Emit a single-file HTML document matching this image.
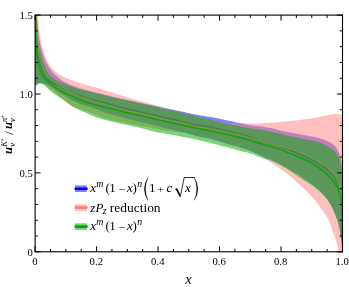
<!DOCTYPE html>
<html><head><meta charset="utf-8"><style>
html,body{margin:0;padding:0;background:#fff}
body{width:349px;height:287px;position:relative;overflow:hidden;font-family:"Liberation Serif",serif;color:#000}
svg{will-change:transform}
svg.tx{filter:grayscale(1)}
text{font-family:"Liberation Serif",serif;fill:#000}
.t{font-size:10.7px}
</style></head><body>
<svg width="349" height="287" viewBox="0 0 349 287" style="position:absolute;left:0;top:0"><defs><clipPath id="c"><rect x="35.1" y="15.1" width="307.4" height="236.70000000000002"/></clipPath></defs><g clip-path="url(#c)"><polygon points="36.9,10.0 36.9,11.9 37.0,13.8 37.1,15.8 37.2,17.7 37.3,19.6 37.4,21.5 37.6,23.5 37.8,25.4 37.9,27.3 38.1,29.2 38.3,31.1 38.5,33.0 38.8,35.0 39.0,36.9 39.3,38.8 39.6,40.7 39.9,42.6 40.3,44.5 40.7,46.3 41.2,48.2 41.8,50.0 42.4,51.9 42.9,53.7 43.4,55.6 44.1,57.4 44.8,59.2 45.6,60.9 46.4,62.7 47.3,64.4 48.2,66.1 49.2,67.7 50.3,69.3 51.5,70.8 52.7,72.3 54.0,73.7 55.4,75.1 56.9,76.3 58.4,77.5 59.9,78.7 61.4,79.9 63.1,80.9 64.7,81.9 66.4,82.8 68.1,83.7 69.9,84.5 71.6,85.3 73.4,86.0 75.2,86.7 77.0,87.3 78.9,87.9 80.7,88.4 82.6,88.9 84.4,89.5 86.3,90.0 88.1,90.5 90.0,91.0 91.9,91.4 93.7,91.9 95.6,92.4 97.5,92.9 99.3,93.3 101.2,93.8 103.1,94.3 104.9,94.7 106.8,95.2 108.7,95.6 110.6,96.0 112.4,96.5 114.3,96.9 116.2,97.4 118.1,97.8 119.9,98.2 121.8,98.7 123.7,99.1 125.6,99.5 127.4,100.0 129.3,100.4 131.2,100.8 133.1,101.2 135.0,101.6 136.8,102.0 138.7,102.4 140.6,102.8 142.5,103.2 144.4,103.6 146.3,104.0 148.2,104.4 150.0,104.8 151.9,105.1 153.8,105.5 155.7,105.9 157.6,106.3 159.5,106.7 161.3,107.1 163.2,107.6 165.1,108.0 167.0,108.4 168.9,108.8 170.8,109.2 172.6,109.6 174.5,110.0 176.4,110.4 178.3,110.8 180.2,111.2 182.0,111.6 183.9,112.0 185.8,112.5 187.7,112.9 189.6,113.3 191.5,113.7 193.3,114.1 195.2,114.5 197.1,114.8 199.0,115.2 200.9,115.5 202.8,115.8 204.7,116.1 206.6,116.4 208.5,116.7 210.4,117.0 212.3,117.3 214.2,117.6 216.1,118.0 218.0,118.4 219.9,118.8 221.8,119.2 223.6,119.6 225.5,120.0 227.4,120.4 229.3,120.8 231.2,121.2 233.0,121.6 234.9,122.0 236.8,122.4 238.7,122.8 240.6,123.2 242.5,123.6 244.3,124.0 246.2,124.4 248.1,124.8 250.0,125.2 251.9,125.5 253.8,125.8 255.7,126.0 257.6,126.2 259.6,126.4 261.5,126.6 263.4,126.8 265.3,127.0 267.2,127.4 269.1,127.7 270.9,128.1 272.8,128.6 274.7,129.0 276.6,129.5 278.4,130.0 280.3,130.4 282.2,130.9 284.1,131.3 285.9,131.7 287.8,132.1 289.7,132.4 291.6,132.8 293.5,133.2 295.4,133.5 297.3,133.9 299.2,134.2 301.1,134.6 303.0,134.9 304.9,135.3 306.8,135.6 308.7,136.0 310.6,136.3 312.5,136.6 314.3,137.0 316.2,137.4 318.1,137.9 320.0,138.4 321.8,139.0 323.7,139.6 325.5,140.2 327.2,141.0 329.0,141.8 330.7,142.7 332.3,143.8 333.9,145.0 335.2,146.2 336.4,147.7 337.4,149.4 338.3,151.1 339.1,152.9 339.7,154.7 340.3,156.6 340.7,158.5 341.1,160.3 341.4,162.2 341.7,164.1 341.9,166.1 342.0,168.0 343.0,168.0 343.0,245.0 342.0,245.0 341.7,243.2 341.4,241.3 341.1,239.5 340.8,237.7 340.5,235.8 340.3,234.0 340.0,232.2 339.8,230.3 339.5,228.5 339.1,226.7 338.7,224.9 338.3,223.1 337.7,221.3 337.1,219.6 336.5,217.8 335.8,216.1 335.2,214.4 334.5,212.7 333.7,210.9 333.0,209.3 332.2,207.6 331.3,205.9 330.5,204.3 329.5,202.7 328.6,201.1 327.6,199.6 326.5,198.0 325.3,196.6 324.1,195.2 322.9,193.8 321.6,192.5 320.2,191.2 318.9,190.0 317.5,188.7 316.1,187.5 314.6,186.3 313.2,185.2 311.8,184.0 310.3,182.9 308.8,181.8 307.3,180.8 305.7,179.7 304.2,178.7 302.6,177.6 301.1,176.6 299.5,175.6 298.0,174.6 296.4,173.7 294.8,172.7 293.2,171.7 291.6,170.8 290.1,169.8 288.5,168.8 286.9,167.9 285.3,166.9 283.7,166.0 282.1,165.1 280.5,164.2 278.8,163.3 277.2,162.5 275.5,161.7 273.8,161.0 272.1,160.3 270.4,159.5 268.7,158.8 267.0,158.1 265.2,157.4 263.5,156.7 261.8,156.0 260.2,155.2 258.5,154.4 256.8,153.6 255.1,152.9 253.4,152.1 251.7,151.4 250.0,150.7 248.3,150.0 246.5,149.4 244.8,148.8 243.0,148.2 241.3,147.6 239.5,147.1 237.7,146.6 235.9,146.1 234.1,145.7 232.3,145.2 230.5,144.7 228.8,144.2 227.0,143.7 225.2,143.2 223.4,142.6 221.7,142.0 219.9,141.5 218.1,140.9 216.4,140.4 214.6,139.8 212.8,139.3 211.0,138.9 209.2,138.4 207.4,138.0 205.6,137.7 203.8,137.3 202.0,137.0 200.1,136.7 198.3,136.3 196.5,135.9 194.7,135.5 192.9,135.1 191.1,134.6 189.3,134.0 187.6,133.5 185.8,133.0 184.0,132.5 182.2,132.1 180.4,131.7 178.6,131.3 176.8,130.9 175.0,130.5 173.2,130.0 171.4,129.6 169.6,129.2 167.8,128.7 166.0,128.3 164.2,127.8 162.4,127.4 160.6,126.9 158.8,126.5 157.0,126.0 155.2,125.5 153.4,125.1 151.6,124.7 149.8,124.2 148.0,123.8 146.2,123.3 144.4,122.9 142.6,122.5 140.8,122.0 139.0,121.6 137.2,121.2 135.4,120.7 133.6,120.2 131.8,119.8 130.0,119.3 128.2,118.9 126.4,118.4 124.6,117.9 122.9,117.5 121.1,117.0 119.3,116.5 117.5,116.0 115.7,115.6 113.9,115.1 112.1,114.6 110.3,114.1 108.5,113.6 106.8,113.1 105.0,112.5 103.3,111.9 101.5,111.2 99.8,110.5 98.1,109.8 96.4,109.1 94.7,108.5 92.9,107.9 91.1,107.3 89.4,106.8 87.6,106.3 85.8,105.7 84.0,105.2 82.3,104.6 80.5,104.0 78.8,103.3 77.1,102.6 75.4,101.9 73.7,101.1 72.1,100.2 70.4,99.4 68.8,98.5 67.2,97.5 65.6,96.6 64.0,95.6 62.5,94.7 60.8,93.7 59.3,92.8 57.7,91.8 56.2,90.7 54.8,89.6 53.3,88.4 51.8,87.4 50.2,86.3 48.6,85.4 46.9,84.7 45.2,84.0 43.4,83.4 41.6,83.0 39.8,82.8 38.0,83.3 36.4,84.2 35.0,85.5 34.5,85.5 34.5,10.0" fill="rgb(0,0,255)" fill-opacity="0.5"/><polyline points="36.0,10.0 36.0,13.2 36.1,16.4 36.1,19.5 36.2,22.7 36.3,25.9 36.4,29.0 36.5,32.2 36.6,35.4 36.8,38.6 37.1,41.7 37.3,44.9 37.6,48.1 37.9,51.2 38.3,54.4 38.7,57.5 39.3,60.7 39.9,63.8 40.7,66.8 41.9,69.8 43.2,72.7 44.6,75.6 46.4,78.1 48.8,80.3 51.4,82.1 54.2,83.7 57.0,85.1 59.8,86.5 62.7,87.8 65.7,89.0 68.6,90.2 71.5,91.5 74.4,92.9 77.3,94.3 80.1,95.6 83.1,96.8 86.1,97.9 89.1,98.8 92.2,99.6 95.3,100.4 98.3,101.2 101.4,101.9 104.5,102.7 107.6,103.5 110.6,104.4 113.7,105.3 116.7,106.2 119.7,107.1 122.8,107.9 125.9,108.6 129.0,109.3 132.1,110.0 135.2,110.7 138.3,111.4 141.4,112.2 144.5,112.9 147.6,113.6 150.7,114.2 153.8,114.9 156.9,115.6 160.0,116.3 163.1,117.1 166.2,117.8 169.2,118.5 172.3,119.2 175.4,120.0 178.5,120.7 181.6,121.4 184.7,122.1 187.8,122.9 190.9,123.6 194.0,124.3 197.1,124.9 200.2,125.4 203.4,125.9 206.5,126.4 209.6,126.9 212.8,127.6 215.9,128.2 218.9,129.0 222.0,129.7 225.1,130.5 228.2,131.2 231.3,132.0 234.4,132.8 237.4,133.6 240.5,134.4 243.6,135.2 246.6,136.0 249.7,136.9 252.7,137.9 255.7,138.9 258.7,139.9 261.7,141.0 264.7,142.1 267.7,143.1 270.8,144.0 273.8,145.0 276.8,145.9 279.9,146.9 282.9,147.8 285.9,148.8 288.9,149.8 291.9,150.9 294.8,152.1 297.8,153.3 300.7,154.5 303.6,155.9 306.5,157.2 309.3,158.6 312.2,160.1 314.9,161.6 317.7,163.2 320.4,164.8 323.1,166.6 325.6,168.5 328.0,170.5 330.5,172.7 332.7,175.1 334.7,177.6 336.1,180.2 337.3,183.1 338.4,186.1 339.3,189.3 340.0,192.4 340.4,195.6 340.7,198.7 340.9,201.9 341.2,205.0 341.3,208.2 341.5,211.4 341.6,214.6 341.7,217.8 341.7,220.9 341.8,224.1 341.9,227.3 341.9,230.5 342.0,233.6 342.0,236.8 342.0,240.0" fill="none" stroke="rgb(0,0,255)" stroke-width="1.3" stroke-opacity="0.85"/><polygon points="37.6,10.0 37.7,11.8 37.8,13.6 37.9,15.4 38.0,17.3 38.1,19.1 38.3,20.9 38.4,22.7 38.6,24.5 38.8,26.3 39.0,28.1 39.2,29.9 39.4,31.7 39.7,33.5 40.0,35.3 40.3,37.1 40.6,38.9 40.9,40.7 41.3,42.5 41.6,44.3 42.0,46.0 42.5,47.8 43.0,49.6 43.5,51.3 44.0,53.0 44.6,54.8 45.2,56.5 45.9,58.2 46.7,59.8 47.5,61.4 48.4,63.0 49.4,64.6 50.4,66.1 51.5,67.5 52.7,68.9 53.9,70.2 55.3,71.5 56.7,72.6 58.1,73.7 59.7,74.7 61.3,75.6 62.9,76.4 64.5,77.3 66.1,78.0 67.8,78.7 69.5,79.4 71.2,80.0 72.9,80.6 74.7,81.2 76.4,81.8 78.1,82.4 79.8,82.9 81.6,83.5 83.3,84.0 85.1,84.5 86.8,85.0 88.5,85.5 90.3,86.1 92.0,86.6 93.8,87.1 95.5,87.6 97.3,88.1 99.0,88.6 100.8,89.1 102.5,89.6 104.2,90.2 106.0,90.7 107.7,91.2 109.5,91.7 111.2,92.2 113.0,92.7 114.7,93.3 116.4,93.8 118.2,94.4 119.9,94.9 121.6,95.5 123.4,96.1 125.1,96.6 126.8,97.2 128.5,97.8 130.3,98.3 132.0,98.8 133.8,99.3 135.5,99.7 137.3,100.2 139.1,100.7 140.8,101.1 142.6,101.6 144.3,102.1 146.1,102.6 147.8,103.1 149.6,103.6 151.3,104.2 153.0,104.7 154.8,105.2 156.5,105.7 158.3,106.3 160.0,106.8 161.7,107.3 163.5,107.9 165.2,108.4 167.0,108.9 168.7,109.4 170.4,110.0 172.2,110.5 173.9,111.0 175.7,111.5 177.4,112.0 179.2,112.5 180.9,112.9 182.7,113.4 184.5,113.9 186.2,114.3 188.0,114.7 189.7,115.2 191.5,115.6 193.3,116.0 195.1,116.4 196.8,116.9 198.6,117.3 200.4,117.7 202.1,118.1 203.9,118.5 205.7,119.0 207.4,119.4 209.2,119.8 211.0,120.2 212.8,120.6 214.6,120.9 216.3,121.2 218.1,121.6 219.9,121.9 221.7,122.2 223.5,122.4 225.3,122.6 227.1,122.8 228.9,123.0 230.8,123.2 232.6,123.2 234.4,123.2 236.2,123.3 238.0,123.3 239.9,123.3 241.7,123.3 243.5,123.3 245.3,123.4 247.1,123.4 248.9,123.4 250.8,123.5 252.6,123.5 254.4,123.5 256.2,123.5 258.0,123.5 259.9,123.4 261.7,123.3 263.5,123.2 265.3,123.1 267.1,123.0 268.9,122.9 270.7,122.8 272.6,122.6 274.4,122.5 276.2,122.4 278.0,122.2 279.8,122.1 281.6,121.9 283.4,121.7 285.2,121.6 287.1,121.4 288.9,121.2 290.7,121.0 292.5,120.8 294.3,120.6 296.1,120.4 297.9,120.2 299.7,120.0 301.5,119.7 303.3,119.5 305.1,119.2 306.9,119.0 308.7,118.7 310.5,118.4 312.3,118.2 314.1,117.9 315.9,117.6 317.7,117.3 319.5,116.9 321.3,116.6 323.0,116.2 324.8,115.8 326.6,115.4 328.4,115.1 330.2,114.8 332.0,114.6 333.8,114.3 335.6,114.1 337.4,114.0 339.3,114.2 340.8,114.8 341.8,116.5 343.0,116.5 343.0,252.5 343.0,252.5 340.5,252.5 338.8,252.5 338.3,252.0 338.1,249.9 337.8,247.6 337.4,245.8 337.0,243.9 336.5,242.1 335.9,240.3 335.3,238.5 334.7,236.7 334.0,234.9 333.4,233.2 332.8,231.4 332.2,229.6 331.6,227.8 331.0,226.0 330.4,224.2 329.8,222.4 329.0,220.7 328.2,219.0 327.2,217.4 326.2,215.8 325.1,214.2 324.1,212.6 323.0,211.1 321.9,209.5 320.8,208.0 319.7,206.5 318.6,205.0 317.4,203.5 316.3,202.0 315.1,200.5 313.9,199.1 312.7,197.6 311.4,196.2 310.2,194.8 308.9,193.4 307.6,192.1 306.2,190.8 304.8,189.5 303.4,188.2 302.0,186.9 300.7,185.6 299.3,184.3 297.9,183.0 296.6,181.7 295.2,180.4 293.8,179.2 292.3,177.9 290.9,176.7 289.4,175.5 287.9,174.3 286.4,173.2 284.9,172.0 283.4,170.9 281.9,169.8 280.4,168.7 278.8,167.6 277.2,166.6 275.6,165.6 274.0,164.6 272.4,163.6 270.8,162.6 269.3,161.5 267.7,160.5 266.1,159.4 264.7,158.1 263.3,156.8 261.8,155.8 260.1,155.0 258.4,154.1 256.7,153.4 254.9,152.6 253.1,151.9 251.4,151.2 249.6,150.6 247.9,149.9 246.1,149.2 244.3,148.6 242.5,148.0 240.7,147.4 238.9,146.9 237.1,146.4 235.2,145.9 233.4,145.5 231.6,145.0 229.7,144.5 227.9,144.0 226.1,143.5 224.3,142.9 222.5,142.3 220.7,141.7 218.9,141.2 217.1,140.6 215.3,140.0 213.5,139.5 211.7,139.0 209.8,138.6 208.0,138.2 206.2,137.8 204.3,137.4 202.4,137.1 200.6,136.7 198.7,136.4 196.9,136.0 195.0,135.6 193.2,135.1 191.4,134.6 189.6,134.1 187.7,133.6 185.9,133.2 184.0,132.8 182.2,132.6 180.3,132.4 178.4,132.1 176.5,131.9 174.7,131.8 172.8,131.5 170.9,131.3 169.0,131.1 167.2,130.8 165.3,130.5 163.4,130.2 161.6,129.9 159.7,129.5 157.9,129.2 156.0,128.9 154.1,128.5 152.3,128.2 150.4,127.8 148.6,127.5 146.7,127.1 144.9,126.8 143.0,126.4 141.2,126.0 139.3,125.6 137.5,125.3 135.6,124.9 133.7,124.6 131.9,124.2 130.0,123.9 128.2,123.6 126.3,123.2 124.4,122.9 122.6,122.5 120.7,122.2 118.9,121.8 117.0,121.4 115.2,121.0 113.4,120.5 111.5,120.1 109.7,119.6 107.9,119.1 106.0,118.6 104.2,118.1 102.5,117.4 100.7,116.8 99.0,116.1 97.2,115.3 95.4,114.7 93.7,114.0 91.9,113.4 90.1,112.7 88.3,112.1 86.5,111.5 84.8,110.9 83.0,110.3 81.2,109.6 79.4,109.0 77.6,108.4 75.8,107.7 74.1,107.0 72.4,106.2 70.8,105.3 69.2,104.2 67.6,103.1 66.1,102.0 64.5,101.0 63.0,99.8 61.6,98.6 60.1,97.4 58.7,96.1 57.3,94.9 55.8,93.7 54.4,92.5 52.9,91.3 51.4,90.2 49.9,89.1 48.4,87.9 47.1,86.5 45.7,85.2 44.4,83.8 43.0,82.6 41.2,81.8 39.3,81.9 37.7,82.5 36.3,84.0 35.0,85.3 34.5,85.3 34.5,10.0" fill="rgb(255,128,128)" fill-opacity="0.5"/><polyline points="36.2,10.0 36.2,13.2 36.3,16.4 36.3,19.5 36.4,22.7 36.5,25.9 36.7,29.1 36.8,32.2 37.0,35.4 37.2,38.6 37.5,41.8 37.8,44.9 38.2,48.1 38.6,51.2 39.1,54.4 39.7,57.5 40.6,60.6 41.5,63.6 42.6,66.6 43.8,69.5 45.2,72.4 46.7,75.2 48.6,77.7 51.1,79.7 53.8,81.5 56.4,83.2 59.1,84.9 61.9,86.6 64.6,88.2 67.3,89.8 70.1,91.3 72.9,92.8 75.7,94.4 78.5,95.9 81.4,97.1 84.4,98.1 87.5,99.1 90.4,100.2 93.4,101.4 96.4,102.4 99.4,103.3 102.5,104.1 105.6,104.9 108.7,105.6 111.8,106.5 114.8,107.4 117.9,108.3 120.9,109.1 124.0,109.9 127.1,110.6 130.2,111.3 133.3,112.0 136.4,112.7 139.5,113.4 142.6,114.1 145.7,114.9 148.8,115.7 151.8,116.6 154.9,117.4 158.0,118.1 161.1,118.7 164.2,119.4 167.3,120.0 170.5,120.6 173.6,121.2 176.7,121.8 179.8,122.4 182.9,123.0 186.0,123.8 189.1,124.6 192.1,125.6 195.2,126.3 198.3,127.0 201.5,127.5 204.6,128.0 207.8,128.5 210.9,129.1 214.0,129.7 217.1,130.4 220.2,131.1 223.3,131.8 226.4,132.5 229.5,133.2 232.6,133.8 235.8,134.4 238.9,135.0 242.0,135.7 245.0,136.5 248.1,137.4 251.2,138.2 254.2,139.0 257.3,139.9 260.4,140.7 263.4,141.6 266.5,142.4 269.5,143.3 272.6,144.2 275.6,145.1 278.7,146.0 281.8,146.8 284.9,147.5 288.0,148.3 291.0,149.1 294.1,150.0 297.1,151.0 300.1,152.0 303.1,153.2 306.0,154.4 308.9,155.7 311.8,157.1 314.6,158.6 317.3,160.2 320.0,161.9 322.6,163.7 325.2,165.6 327.6,167.7 330.2,169.7 332.7,172.0 334.7,174.3 336.1,176.9 337.3,179.7 338.4,182.8 339.2,186.0 339.9,189.2 340.3,192.3 340.6,195.5 340.8,198.6 341.0,201.8 341.2,205.0 341.4,208.2 341.5,211.4 341.6,214.6 341.7,217.7 341.7,220.9 341.8,224.1 341.9,227.3 341.9,230.5 342.0,233.6 342.0,236.8 342.0,240.0" fill="none" stroke="rgb(255,128,128)" stroke-width="1.3" stroke-opacity="1"/><polygon points="36.3,10.0 36.4,12.0 36.4,13.9 36.5,15.9 36.6,17.8 36.7,19.8 36.7,21.7 36.8,23.7 36.9,25.6 37.0,27.6 37.2,29.6 37.3,31.5 37.5,33.5 37.6,35.4 37.8,37.4 38.1,39.3 38.3,41.2 38.5,43.2 38.8,45.1 39.1,47.0 39.5,49.0 39.9,50.9 40.4,52.8 40.8,54.7 41.3,56.6 41.9,58.5 42.5,60.3 43.2,62.1 44.0,64.0 44.7,65.8 45.4,67.6 46.2,69.4 47.1,71.1 48.1,72.8 49.2,74.4 50.5,75.9 51.8,77.3 53.4,78.6 55.0,79.6 56.7,80.6 58.5,81.5 60.2,82.3 62.0,83.1 63.9,83.8 65.7,84.5 67.5,85.2 69.3,85.9 71.2,86.5 73.0,87.2 74.9,87.8 76.8,88.4 78.6,88.9 80.5,89.4 82.4,89.9 84.3,90.4 86.2,90.9 88.1,91.3 90.0,91.8 91.9,92.2 93.8,92.7 95.7,93.1 97.6,93.6 99.5,94.1 101.4,94.6 103.3,95.1 105.2,95.5 107.1,96.0 109.0,96.5 110.9,97.0 112.8,97.4 114.7,97.8 116.7,98.2 118.6,98.6 120.5,99.0 122.4,99.3 124.3,99.7 126.3,100.1 128.2,100.4 130.1,100.8 132.0,101.2 133.9,101.7 135.8,102.1 137.7,102.6 139.6,103.0 141.5,103.5 143.5,103.9 145.4,104.4 147.3,104.8 149.2,105.3 151.1,105.7 153.0,106.2 154.9,106.6 156.8,107.1 158.7,107.5 160.6,107.9 162.5,108.4 164.4,108.8 166.3,109.2 168.2,109.7 170.1,110.1 172.1,110.5 174.0,111.0 175.9,111.4 177.8,111.9 179.7,112.3 181.6,112.8 183.5,113.2 185.4,113.7 187.3,114.2 189.2,114.7 191.1,115.1 193.0,115.6 194.9,116.1 196.8,116.6 198.7,117.0 200.6,117.5 202.5,117.9 204.4,118.3 206.3,118.7 208.2,119.1 210.1,119.5 212.1,120.0 214.0,120.4 215.9,120.9 217.8,121.4 219.6,121.9 221.5,122.4 223.4,122.9 225.3,123.3 227.2,123.8 229.2,124.2 231.1,124.6 233.0,125.0 234.9,125.4 236.8,125.8 238.7,126.1 240.7,126.5 242.6,126.8 244.5,127.2 246.5,127.5 248.4,127.8 250.3,128.2 252.2,128.5 254.2,128.7 256.1,129.0 258.1,129.3 260.0,129.6 261.9,129.9 263.9,130.2 265.8,130.5 267.7,130.9 269.6,131.3 271.5,131.8 273.4,132.2 275.3,132.7 277.2,133.1 279.1,133.6 281.0,134.1 282.9,134.5 284.9,135.0 286.8,135.4 288.7,135.8 290.6,136.2 292.5,136.7 294.4,137.1 296.3,137.5 298.2,137.9 300.2,138.3 302.1,138.7 304.0,139.1 305.9,139.5 307.8,139.8 309.8,140.1 311.7,140.5 313.6,140.8 315.5,141.3 317.4,141.8 319.3,142.4 321.1,143.1 322.9,143.9 324.7,144.7 326.4,145.6 328.1,146.6 329.8,147.6 331.5,148.7 333.0,149.9 334.5,151.2 335.7,152.7 336.9,154.3 337.9,156.0 338.7,157.7 339.4,159.6 340.1,161.5 340.5,163.4 340.9,165.3 341.2,167.2 341.5,169.1 341.8,171.0 341.9,173.0 342.0,175.0 343.0,175.0 343.0,246.0 342.0,246.0 341.7,244.2 341.4,242.3 341.1,240.5 340.9,238.6 340.6,236.8 340.4,234.9 340.1,233.1 339.9,231.2 339.6,229.4 339.3,227.6 338.9,225.8 338.4,224.0 337.9,222.2 337.3,220.4 336.7,218.6 336.0,216.9 335.4,215.1 334.7,213.4 334.0,211.7 333.2,210.0 332.4,208.3 331.6,206.6 330.7,205.0 329.8,203.4 328.7,201.8 327.7,200.3 326.5,198.8 325.3,197.4 324.1,196.0 322.8,194.7 321.5,193.4 320.1,192.1 318.7,190.8 317.3,189.6 315.9,188.4 314.4,187.2 312.9,186.1 311.4,185.1 309.8,184.1 308.3,183.1 306.7,182.1 305.1,181.1 303.5,180.1 302.0,179.0 300.5,178.0 298.9,176.9 297.4,175.9 295.8,174.8 294.3,173.8 292.7,172.8 291.1,171.8 289.6,170.8 288.0,169.8 286.4,168.8 284.8,167.8 283.2,166.9 281.6,166.0 280.0,165.1 278.3,164.2 276.7,163.3 275.0,162.5 273.3,161.7 271.6,160.9 269.9,160.3 268.1,159.7 266.3,159.2 264.5,158.8 262.7,158.2 261.0,157.6 259.3,156.9 257.5,156.2 255.8,155.4 254.1,154.7 252.3,154.1 250.6,153.5 248.8,153.0 247.0,152.5 245.2,152.1 243.4,151.7 241.6,151.2 239.8,150.7 238.0,150.3 236.2,149.8 234.4,149.3 232.6,148.8 230.8,148.3 229.0,147.8 227.2,147.3 225.4,146.8 223.6,146.4 221.8,145.9 220.0,145.4 218.2,144.9 216.4,144.5 214.6,144.0 212.8,143.5 211.0,143.1 209.2,142.6 207.4,142.2 205.5,141.7 203.7,141.3 201.9,140.9 200.1,140.4 198.3,140.0 196.5,139.6 194.7,139.2 192.8,138.8 191.0,138.5 189.2,138.1 187.4,137.7 185.5,137.4 183.7,137.0 181.9,136.7 180.0,136.3 178.2,136.0 176.4,135.6 174.6,135.3 172.7,134.9 170.9,134.6 169.1,134.2 167.2,133.9 165.4,133.6 163.6,133.3 161.7,133.0 159.9,132.7 158.0,132.4 156.2,132.0 154.4,131.7 152.6,131.2 150.8,130.8 149.0,130.3 147.2,129.8 145.4,129.2 143.6,128.7 141.8,128.3 140.0,127.8 138.2,127.4 136.4,127.0 134.6,126.6 132.7,126.2 130.9,125.8 129.1,125.5 127.3,125.1 125.4,124.7 123.6,124.3 121.8,123.8 120.0,123.4 118.2,123.0 116.4,122.6 114.6,122.2 112.7,121.7 110.9,121.3 109.1,120.9 107.3,120.4 105.5,119.9 103.7,119.5 101.9,119.0 100.1,118.5 98.3,118.0 96.5,117.5 94.8,116.8 93.1,116.1 91.4,115.4 89.7,114.6 88.0,113.8 86.3,113.1 84.6,112.3 82.9,111.6 81.2,110.8 79.5,110.0 77.8,109.3 76.1,108.4 74.4,107.6 72.8,106.7 71.2,105.7 69.7,104.7 68.2,103.6 66.7,102.5 65.2,101.3 63.8,100.1 62.3,99.0 60.7,98.0 59.1,97.0 57.6,96.0 56.0,95.0 54.5,93.9 53.0,92.8 51.5,91.7 50.1,90.4 48.7,89.2 47.4,87.9 46.0,86.6 44.6,85.4 43.0,84.4 41.3,83.7 39.4,83.8 37.8,84.4 36.3,85.5 35.0,87.2 34.5,87.2 34.5,10.0" fill="rgb(0,172,0)" fill-opacity="0.52"/><polyline points="35.7,10.0 35.7,13.2 35.7,16.4 35.8,19.5 35.8,22.7 35.8,25.9 35.9,29.1 35.9,32.2 36.0,35.4 36.1,38.6 36.2,41.8 36.3,44.9 36.5,48.1 36.7,51.3 36.9,54.4 37.3,57.6 37.8,60.7 38.4,63.9 39.1,67.0 40.0,70.0 41.2,73.0 42.6,75.8 44.4,78.4 46.7,80.6 49.1,82.7 51.6,84.7 54.1,86.7 56.7,88.4 59.5,90.0 62.2,91.7 65.0,93.1 67.9,94.5 70.8,95.8 73.7,97.0 76.6,98.3 79.4,99.7 82.4,100.9 85.4,102.0 88.4,102.9 91.5,103.7 94.6,104.5 97.6,105.3 100.7,106.1 103.8,106.9 106.9,107.7 110.0,108.4 113.0,109.2 116.1,109.9 119.2,110.7 122.3,111.5 125.4,112.3 128.4,113.0 131.5,113.7 134.7,114.4 137.8,115.0 140.9,115.6 144.0,116.3 147.1,117.0 150.1,117.9 153.2,118.7 156.3,119.5 159.4,120.2 162.5,120.8 165.6,121.5 168.7,122.1 171.8,122.8 174.9,123.5 178.0,124.1 181.1,124.8 184.2,125.5 187.3,126.2 190.4,127.0 193.5,127.7 196.6,128.3 199.7,128.9 202.9,129.5 206.0,130.0 209.1,130.6 212.2,131.3 215.3,131.9 218.4,132.6 221.5,133.2 224.6,133.9 227.7,134.7 230.8,135.4 233.9,136.1 237.0,136.9 240.1,137.7 243.2,138.5 246.2,139.3 249.3,140.2 252.3,141.1 255.3,142.1 258.4,143.0 261.4,143.9 264.5,144.8 267.6,145.6 270.6,146.5 273.6,147.4 276.7,148.4 279.7,149.4 282.7,150.4 285.6,151.6 288.6,152.8 291.5,154.0 294.5,155.2 297.4,156.4 300.3,157.6 303.3,158.9 306.2,160.1 309.0,161.5 311.8,163.0 314.5,164.7 317.1,166.6 319.7,168.4 322.2,170.3 324.7,172.3 327.1,174.4 329.4,176.6 331.6,178.9 333.6,181.4 335.4,184.0 337.1,186.7 338.4,189.6 339.5,192.6 340.4,195.6 341.0,198.7 341.5,201.9 341.8,205.1 341.8,208.2 341.9,211.4 341.9,214.6 341.9,217.7 341.9,220.9 342.0,224.1 342.0,227.3 342.0,230.4 342.0,233.6 342.0,236.8 342.0,240.0" fill="none" stroke="rgb(6,166,6)" stroke-width="1.35"/></g><rect x="35.1" y="15.1" width="307.4" height="236.70000000000002" fill="none" stroke="#000" stroke-width="1.1"/><path d="M35.10,251.8v-5.5M35.10,15.1v5.5M50.47,251.8v-2.8M50.47,15.1v2.8M65.84,251.8v-2.8M65.84,15.1v2.8M81.21,251.8v-2.8M81.21,15.1v2.8M96.58,251.8v-5.5M96.58,15.1v5.5M111.95,251.8v-2.8M111.95,15.1v2.8M127.32,251.8v-2.8M127.32,15.1v2.8M142.69,251.8v-2.8M142.69,15.1v2.8M158.06,251.8v-5.5M158.06,15.1v5.5M173.43,251.8v-2.8M173.43,15.1v2.8M188.80,251.8v-2.8M188.80,15.1v2.8M204.17,251.8v-2.8M204.17,15.1v2.8M219.54,251.8v-5.5M219.54,15.1v5.5M234.91,251.8v-2.8M234.91,15.1v2.8M250.28,251.8v-2.8M250.28,15.1v2.8M265.65,251.8v-2.8M265.65,15.1v2.8M281.02,251.8v-5.5M281.02,15.1v5.5M296.39,251.8v-2.8M296.39,15.1v2.8M311.76,251.8v-2.8M311.76,15.1v2.8M327.13,251.8v-2.8M327.13,15.1v2.8M342.50,251.8v-5.5M342.50,15.1v5.5M35.1,251.80h5.5M342.5,251.80h-5.5M35.1,236.02h2.8M342.5,236.02h-2.8M35.1,220.24h2.8M342.5,220.24h-2.8M35.1,204.46h2.8M342.5,204.46h-2.8M35.1,188.68h2.8M342.5,188.68h-2.8M35.1,172.90h5.5M342.5,172.90h-5.5M35.1,157.12h2.8M342.5,157.12h-2.8M35.1,141.34h2.8M342.5,141.34h-2.8M35.1,125.56h2.8M342.5,125.56h-2.8M35.1,109.78h2.8M342.5,109.78h-2.8M35.1,94.00h5.5M342.5,94.00h-5.5M35.1,78.22h2.8M342.5,78.22h-2.8M35.1,62.44h2.8M342.5,62.44h-2.8M35.1,46.66h2.8M342.5,46.66h-2.8M35.1,30.88h2.8M342.5,30.88h-2.8M35.1,15.10h5.5M342.5,15.10h-5.5" stroke="#000" stroke-width="1" fill="none"/><rect x="75" y="185.4" width="11.8" height="6.6" fill="rgb(0,0,255)" fill-opacity="0.5"/><line x1="75.6" x2="86.6" y1="188.7" y2="188.7" stroke="rgb(0,0,255)" stroke-width="2.6" stroke-linecap="round"/><rect x="75" y="204.3" width="11.8" height="6.6" fill="rgb(255,128,128)" fill-opacity="0.5"/><line x1="75.6" x2="86.6" y1="207.6" y2="207.6" stroke="rgb(255,128,128)" stroke-width="2.6" stroke-linecap="round"/><rect x="75" y="223.3" width="11.8" height="6.6" fill="rgb(0,172,0)" fill-opacity="0.52"/><line x1="75.6" x2="86.6" y1="226.6" y2="226.6" stroke="rgb(0,172,0)" stroke-width="2.6" stroke-linecap="round"/></svg><svg class="tx" width="349" height="287" viewBox="0 0 349 287" style="position:absolute;left:0;top:0"><text x="34.8" y="264.6" text-anchor="middle" class="t">0</text><text x="96.3" y="264.6" text-anchor="middle" class="t">0.2</text><text x="157.8" y="264.6" text-anchor="middle" class="t">0.4</text><text x="219.2" y="264.6" text-anchor="middle" class="t">0.6</text><text x="280.7" y="264.6" text-anchor="middle" class="t">0.8</text><text x="342.2" y="264.6" text-anchor="middle" class="t">1.0</text><text x="32.8" y="255.7" text-anchor="end" class="t">0</text><text x="32.8" y="176.8" text-anchor="end" class="t">0.5</text><text x="32.8" y="97.9" text-anchor="end" class="t">1.0</text><text x="32.8" y="19.0" text-anchor="end" class="t">1.5</text><g class="s"><text x="90.3" y="192.2" style="font-style:italic;font-size:13px" >x</text><text x="96.2" y="187.0" style="font-style:italic;font-size:9.8px" >m</text><text x="105.6" y="192.2" style="font-size:13px" >(</text><text x="109.2" y="192.2" style="font-size:13px" >1</text><text x="118.7" y="192.89999999999998" style="font-size:11.5px" >&#8722;</text><text x="127.0" y="192.2" style="font-style:italic;font-size:13px" >x</text><text x="132.6" y="192.2" style="font-size:13px" >)</text><text x="137.2" y="187.0" style="font-style:italic;font-size:9.8px" >n</text><path d="M148.0,177.6 Q140.60,188.95 148.0,200.3 Q142.90,188.95 148.0,177.6Z" fill="#000" stroke="#000" stroke-width="0.3"/><text x="148.9" y="192.2" style="font-size:13px" >1</text><text x="157.6" y="192.9" style="font-size:11.3px" >+</text><text x="166.5" y="192.2" style="font-style:italic;font-size:13px" >c</text><path d="M175,189.6 L176.6,188.7" stroke="#000" stroke-width="0.8" fill="none"/><path d="M176.4,188.6 L180.2,196.2" stroke="#000" stroke-width="1.7" fill="none"/><path d="M180.3,196.8 L184.2,177.5 L195,177.5" stroke="#000" stroke-width="0.8" fill="none"/><text x="185.0" y="192.2" style="font-style:italic;font-size:13px" >x</text><path d="M194.3,177.6 Q201.50,188.95 194.3,200.3 Q199.20,188.95 194.3,177.6Z" fill="#000" stroke="#000" stroke-width="0.3"/><text x="90.2" y="212.3" style="font-style:italic;font-size:13px" >z</text><text x="95.6" y="212.3" style="font-style:italic;font-size:13px" >P</text><text x="102.8" y="214.2" style="font-style:italic;font-size:9.8px" >z</text><text x="109.8" y="212.3" style="font-size:13px" textLength="50.8" lengthAdjust="spacingAndGlyphs">reduction</text><text x="90.3" y="230.2" style="font-style:italic;font-size:13px" >x</text><text x="96.2" y="225.0" style="font-style:italic;font-size:9.8px" >m</text><text x="105.6" y="230.2" style="font-size:13px" >(</text><text x="109.2" y="230.2" style="font-size:13px" >1</text><text x="118.7" y="230.89999999999998" style="font-size:11.5px" >&#8722;</text><text x="127.0" y="230.2" style="font-style:italic;font-size:13px" >x</text><text x="132.6" y="230.2" style="font-size:13px" >)</text><text x="137.2" y="225.0" style="font-style:italic;font-size:9.8px" >n</text></g><text x="185.2" y="283.7" style="font-style:italic;font-size:14.5px" class="s">x</text><g class="s" transform="translate(11.9,154.0) rotate(-90)"><text x="0" y="0" style="font-style:italic;font-weight:bold;font-size:12.6px">u</text><text x="7.2" y="-4.5" style="font-style:italic;font-size:8.5px">K</text><text x="12.6" y="-7.3" style="font-size:6px">+</text><text x="7.2" y="3.3" style="font-style:italic;font-size:8.5px">v</text><text x="19.2" y="0.6" style="font-size:13px">/</text><text x="24.9" y="0" style="font-style:italic;font-weight:bold;font-size:12.6px">u</text><text x="32.1" y="-4.5" style="font-style:italic;font-size:8.5px">&#960;</text><text x="35.7" y="-7.3" style="font-size:6px">+</text><text x="32.1" y="3.3" style="font-style:italic;font-size:8.5px">v</text></g></svg>
</body></html>
